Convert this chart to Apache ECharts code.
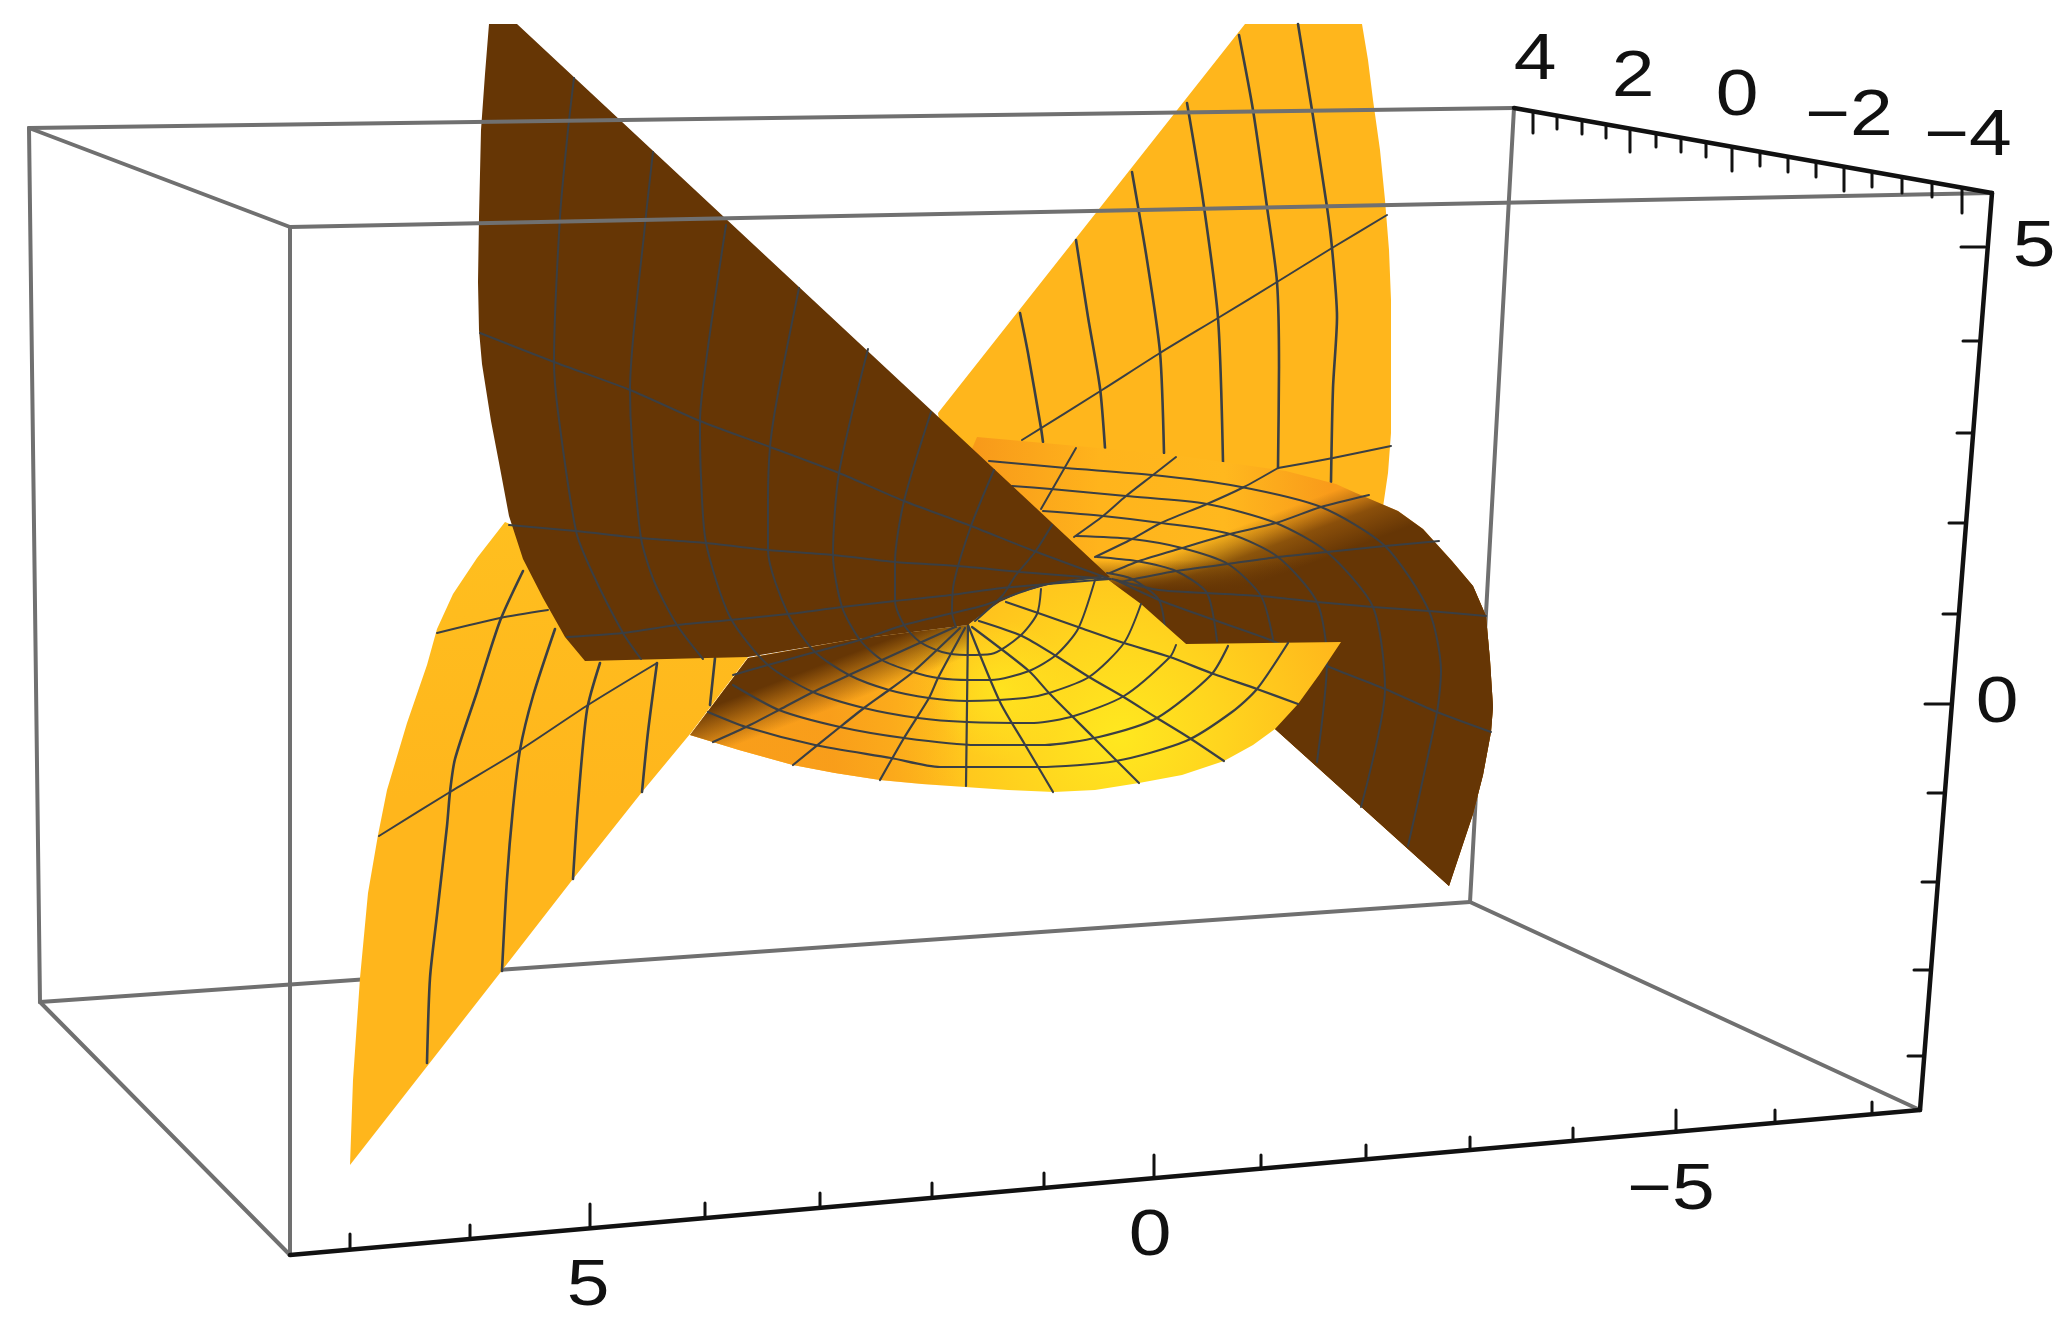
<!DOCTYPE html>
<html>
<head>
<meta charset="utf-8">
<title>Surface plot</title>
<style>
  html, body { margin: 0; padding: 0; background: #fff; }
  #chart { width: 2070px; height: 1331px; }
</style>
<script src="https://cdn.jsdelivr.net/npm/echarts@6/dist/echarts.min.js"></script>
</head>
<body>
<div id="chart"></div>
<script>
// everything is read off the picture, in the plane of the projected image
// bounding box corners
const backTopLeft = [29, 128]
const backTopRight = [1514, 108]
const frontTopLeft = [290, 227]
const frontTopRight = [1992, 193]
const backBottomLeft = [40, 1002]
const backBottomRight = [1470, 902]
const frontBottomLeft = [290, 1255]
const frontBottomRight = [1920, 1110]

// axis ticks: [base x, base y, end x, end y]
const bottomTicks = [
  [350, 1248, 350, 1234], [470, 1238, 470, 1225], [590, 1228, 590, 1204], [705, 1218, 705, 1203],
  [820, 1207, 820, 1193], [932, 1197, 932, 1183], [1044, 1187, 1044, 1173], [1154, 1177, 1154, 1155],
  [1261, 1169, 1261, 1155], [1366, 1159, 1366, 1145], [1470, 1148, 1470, 1137], [1573, 1140, 1573, 1128],
  [1676, 1132, 1676, 1110], [1775, 1122, 1775, 1110], [1872, 1113, 1872, 1102]
]
const topTicks = [
  [1533, 112, 1533, 133], [1557, 116, 1557, 129], [1582, 120, 1582, 134], [1606, 125, 1606, 138],
  [1630, 129, 1630, 152], [1656, 134, 1656, 147], [1681, 138, 1681, 152], [1706, 143, 1706, 157],
  [1732, 147, 1732, 171], [1760, 152, 1760, 166], [1788, 157, 1788, 172], [1816, 162, 1816, 177],
  [1844, 167, 1844, 191], [1872, 172, 1872, 187], [1902, 177, 1902, 193], [1932, 183, 1932, 197],
  [1962, 188, 1962, 213]
]
const rightTicks = [
  [1985, 247, 1961, 247], [1979, 341, 1963, 341], [1973, 433, 1957, 433], [1966, 523, 1949, 523],
  [1958, 614, 1943, 614], [1951, 704, 1925, 704], [1944, 793, 1928, 793], [1937, 882, 1922, 882],
  [1930, 970, 1914, 970], [1924, 1056, 1908, 1056]
]

// tick labels: [text, x, y]
const tickLabels = [
  ['4', 1535, 61], ['2', 1633, 78], ['0', 1737, 97], ['\u22122', 1849, 117], ['\u22124', 1968, 137],
  ['5', 2034, 248], ['0', 1997, 704],
  ['5', 588, 1287], ['0', 1150, 1237], ['\u22125', 1671, 1191]
]

// surface outlines
const backWing = [
  [1245, 24], [1362, 24], [1368, 60], [1373, 100], [1380, 150], [1385, 200], [1389, 250], [1391, 300],
  [1391, 433], [1388, 473], [1383, 507], [1300, 560], [960, 560], [938, 413]
]
const frontWing = [
  [350, 1165], [353, 1080], [360, 978], [368, 893], [378, 835], [387, 790], [407, 723], [427, 665], [437, 629],
  [453, 594], [477, 558], [505, 522], [600, 560], [748, 657], [690, 734], [642, 792], [573, 879], [500, 973]
]
const bowlBack = [
  [977, 437], [1066, 445], [1174, 455], [1286, 471], [1336, 484], [1356, 493], [1398, 511], [1423, 529],
  [1452, 561], [1473, 586], [1486, 616], [1490, 660], [1493, 707], [1491, 732], [1483, 775], [1473, 814],
  [1449, 886], [1275, 729], [1186, 644], [1107, 579], [950, 500]
]
const bowlFront = [
  [968, 625], [985, 612], [1000, 602], [1020, 593], [1041, 587], [1060, 582], [1078, 580], [1090, 579], [1107, 579],
  [1141, 604], [1186, 644], [1341, 642], [1319, 675], [1298, 704], [1275, 729], [1253, 745], [1224, 761],
  [1182, 775], [1139, 783], [1095, 790], [1054, 792], [1008, 790], [965, 787], [922, 784], [880, 780],
  [835, 773], [793, 765], [739, 750], [690, 735], [748, 658], [850, 640]
]
const bowlShadow = [
  [968, 625], [850, 640], [748, 658], [690, 735], [739, 750], [793, 765], [880, 780], [968, 700]
]
const darkWing = [
  [489, 24], [517, 24], [1110, 577], [1090, 579], [1078, 580], [1060, 582], [1041, 587], [1020, 593], [1000, 602],
  [985, 612], [968, 625], [850, 640], [748, 657], [585, 661], [565, 637], [543, 598], [523, 559], [509, 516],
  [500, 468], [491, 421], [482, 364], [479, 330], [478, 282], [479, 217], [481, 130], [485, 74]
]

// mesh on the back wing
const backWingRulings = [
  [[1020, 313], [1028, 353], [1041, 428], [1043, 442]],
  [[1076, 240], [1088, 317], [1100, 388], [1105, 448]],
  [[1132, 172], [1147, 260], [1160, 352], [1164, 453]],
  [[1187, 103], [1203, 200], [1218, 318], [1223, 462]],
  [[1239, 35], [1253, 110], [1267, 207], [1277, 282], [1279, 367], [1278, 468]],
  [[1298, 24], [1312, 110], [1327, 207], [1332, 248], [1337, 317], [1333, 388], [1331, 482]]
]
const backWingCross = [
  [[1022, 440], [1102, 390], [1160, 353], [1218, 318], [1277, 282], [1332, 248], [1387, 215]],
  [[1278, 468], [1333, 458], [1391, 446]]
]

// mesh on the far half of the bowl and its dark right wing
const bowlBackMesh = [
  [[989, 461], [1066, 468], [1153, 475], [1236, 486], [1321, 507], [1385, 546], [1429, 611], [1441, 671], [1437, 712], [1408, 846]],
  [[1012, 486], [1051, 489], [1126, 496], [1207, 504], [1276, 523], [1327, 552], [1373, 607], [1385, 689], [1361, 807]],
  [[1043, 511], [1103, 516], [1161, 523], [1230, 534], [1278, 557], [1317, 602], [1327, 661], [1317, 762]],
  [[1076, 536], [1132, 539], [1182, 548], [1228, 564], [1261, 596], [1273, 639]],
  [[1097, 557], [1136, 561], [1176, 571], [1207, 593], [1217, 641]],
  [[1107, 573], [1132, 579], [1159, 600], [1166, 640]],
  [[1076, 448], [1041, 509]],
  [[1176, 457], [1153, 475], [1126, 496], [1103, 516], [1074, 537]],
  [[1278, 468], [1244, 487], [1207, 504], [1161, 523], [1132, 539], [1095, 557]],
  [[1369, 495], [1321, 507], [1276, 523], [1230, 534], [1182, 548], [1139, 561], [1110, 573]],
  [[1439, 541], [1385, 546], [1327, 552], [1278, 557], [1228, 564], [1176, 571], [1120, 582]],
  [[1486, 616], [1429, 611], [1373, 607], [1317, 602], [1261, 596], [1207, 593], [1159, 590], [1112, 579]],
  [[1491, 732], [1437, 712], [1385, 689], [1327, 666], [1273, 641], [1217, 621], [1159, 600], [1116, 580]]
]

// mesh on the near half of the bowl
const bowlFrontMesh = [
  [[708, 712], [746, 727], [815, 745], [891, 758], [940, 767], [1038, 767], [1116, 761], [1186, 741], [1232, 712], [1257, 689], [1288, 643]],
  [[733, 685], [779, 710], [840, 727], [904, 738], [976, 745], [1045, 745], [1099, 737], [1157, 718], [1211, 675], [1228, 646]],
  [[968, 625], [966, 786]],
  [[968, 625], [1000, 702], [1024, 743], [1053, 792]],
  [[972, 627], [1029, 671], [1049, 693], [1093, 737], [1139, 783]],
  [[979, 621], [1022, 636], [1056, 656], [1089, 677], [1122, 696], [1157, 718], [1188, 737], [1224, 761]],
  [[1006, 602], [1041, 614], [1078, 627], [1124, 643], [1170, 657], [1211, 673], [1257, 689], [1298, 704]],
  [[965, 628], [938, 678], [929, 698], [904, 738], [880, 780]],
  [[960, 628], [913, 672], [889, 690], [864, 708], [840, 727], [793, 765]],
  [[955, 627], [882, 660], [849, 675], [813, 692], [779, 710], [746, 727], [713, 742]]
]

// mesh on the left lower wing
const frontWingRulings = [
  [[427, 1063], [430, 978], [437, 915], [447, 826], [450, 792], [455, 759], [477, 692], [500, 621], [523, 571]],
  [[502, 971], [507, 879], [513, 808], [520, 750], [533, 696], [555, 629]],
  [[573, 879], [578, 804], [587, 710], [600, 663]],
  [[642, 792], [648, 732], [657, 663]],
  [[710, 705], [715, 658]]
]
const frontWingCross = [
  [[379, 836], [450, 792], [520, 750], [588, 705], [657, 663]],
  [[437, 633], [500, 618], [548, 610]]
]

// mesh on the dark wing, the inner arcs run on into the near bowl
const darkWingMesh = [
  [[480, 333], [554, 362], [630, 390], [700, 421], [770, 447], [839, 473], [904, 501], [971, 526], [1034, 551], [1110, 579]],
  [[509, 525], [576, 531], [641, 538], [706, 543], [768, 550], [833, 555], [895, 562], [958, 566], [1020, 572], [1110, 579]],
  [[567, 637], [623, 633], [677, 625], [730, 620], [788, 614], [842, 607], [895, 601], [951, 595], [1002, 588], [1110, 579]],
  [[733, 675], [768, 665], [815, 652], [860, 640], [904, 625], [953, 613], [985, 605], [1043, 585], [1100, 577]],
  [[574, 78], [568, 130], [560, 217], [554, 362], [558, 412], [576, 531], [592, 572], [623, 633], [641, 659]],
  [[653, 152], [645, 225], [630, 390], [632, 442], [641, 538], [654, 581], [677, 625], [703, 659]],
  [[726, 225], [708, 347], [700, 421], [701, 477], [706, 543], [730, 617], [768, 665], [813, 692], [864, 708], [918, 718], [967, 722], [1034, 723], [1074, 716], [1124, 696], [1170, 657], [1176, 645]],
  [[799, 288], [777, 399], [770, 447], [768, 500], [768, 550], [788, 614], [815, 652], [849, 675], [889, 690], [929, 698], [967, 701], [1025, 698], [1049, 693], [1089, 677], [1124, 643], [1141, 604]],
  [[868, 349], [839, 473], [833, 555], [842, 607], [860, 640], [882, 660], [913, 672], [938, 678], [969, 680], [991, 680], [1029, 671], [1056, 655], [1078, 629], [1095, 580]],
  [[931, 412], [904, 501], [895, 562], [895, 601], [904, 625], [920, 642], [942, 652], [966, 655], [991, 654], [1020, 636], [1037, 614], [1041, 589]],
  [[994, 470], [971, 526], [954, 582], [952, 612], [956, 627]],
  [[1052, 525], [1035, 552], [1016, 575], [1002, 596], [975, 621]]
]

const BROWN = '#663605'
const ORANGE = '#FFB61C'
const MESH = '#3a3f44'
const GRAY = '#707070'
const INK = '#111111'

const brown = a => `rgba(102,54,5,${a})`

function linear(x1, y1, x2, y2, stops) {
  return api => {
    const a = api.coord([x1, y1])
    const b = api.coord([x2, y2])
    return { type: 'linear', x: a[0], y: a[1], x2: b[0], y2: b[1], global: true, colorStops: stops }
  }
}

function radial(x, y, r, stops) {
  return api => {
    const c = api.coord([x, y])
    return { type: 'radial', x: c[0], y: c[1], r: r, global: true, colorStops: stops }
  }
}

function polygon(points, fill) {
  return {
    type: 'custom',
    coordinateSystem: 'cartesian2d',
    silent: true,
    data: points,
    renderItem(params, api) {
      if (params.dataIndex !== 0) return null
      return {
        type: 'polygon',
        shape: { points: points.map(p => api.coord(p)) },
        style: { fill: typeof fill === 'function' ? fill(api) : fill }
      }
    }
  }
}

function line(points, color, width, smooth) {
  return {
    type: 'line',
    data: points,
    showSymbol: false,
    silent: true,
    smooth: smooth || 0,
    lineStyle: { color: color, width: width, cap: 'round' }
  }
}

const mesh = (lines, width) => lines.map(points => line(points, MESH, width || 2, 0.25))
const ticks = list => list.map(t => line([[t[0], t[1]], [t[2], t[3]]], INK, 3))

const labels = {
  type: 'custom',
  coordinateSystem: 'cartesian2d',
  silent: true,
  data: tickLabels.map(l => [l[1], l[2], l[0]]),
  renderItem(params, api) {
    const p = api.coord([api.value(0), api.value(1)])
    return {
      type: 'text',
      x: p[0],
      y: p[1],
      scaleX: 1.2,
      style: {
        text: tickLabels[params.dataIndex][0],
        font: '64px "Liberation Sans", Arial, sans-serif',
        fill: INK,
        align: 'center',
        verticalAlign: 'middle'
      }
    }
  }
}

const series = [
  // box edges behind the surface
  line([backBottomLeft, backBottomRight], GRAY, 4),
  line([backTopRight, backBottomRight], GRAY, 4),

  polygon(backWing, ORANGE),
  ...mesh(backWingRulings, 2.6),
  ...mesh(backWingCross, 2),

  polygon(bowlBack, linear(977, 450, 1330, 450, [
    { offset: 0, color: '#F89A1A' },
    { offset: 0.35, color: '#FFB41C' },
    { offset: 0.7, color: '#FFB81E' },
    { offset: 1, color: '#F99B1A' }
  ])),
  polygon(bowlBack, linear(1246.5, 523.6, 1267.6, 579.8, [
    { offset: 0, color: brown(0) },
    { offset: 0.25, color: brown(0.35) },
    { offset: 0.5, color: brown(0.75) },
    { offset: 1, color: brown(1) }
  ])),
  polygon(bowlBack, linear(1200, 560, 1200, 590, [
    { offset: 0, color: brown(0) },
    { offset: 1, color: brown(1) }
  ])),
  ...mesh(bowlBackMesh),

  polygon(bowlFront, radial(1120, 735, 230, [
    { offset: 0, color: '#FFE81F' },
    { offset: 0.45, color: '#FFD41E' },
    { offset: 1, color: '#FFB81C' }
  ])),
  polygon(bowlFront, radial(1000, 690, 70, [
    { offset: 0, color: 'rgba(255,232,31,0.8)' },
    { offset: 1, color: 'rgba(255,232,31,0)' }
  ])),
  polygon(bowlFront, linear(830, 730, 960, 715, [
    { offset: 0, color: 'rgba(248,155,26,0.9)' },
    { offset: 1, color: 'rgba(248,155,26,0)' }
  ])),
  polygon(bowlShadow, linear(818, 666, 834, 708, [
    { offset: 0, color: brown(1) },
    { offset: 1, color: brown(0) }
  ])),
  ...mesh(bowlFrontMesh, 2.2),

  polygon(frontWing, linear(500, 520, 500, 800, [
    { offset: 0, color: '#FFBF1F' },
    { offset: 1, color: ORANGE }
  ])),
  ...mesh(frontWingRulings, 2.6),
  ...mesh(frontWingCross, 2),

  polygon(darkWing, BROWN),
  ...mesh(darkWingMesh),

  // box edges that stay on top
  line([backTopLeft, backTopRight], GRAY, 4),
  line([frontTopLeft, frontTopRight], GRAY, 4),
  line([backTopLeft, frontTopLeft], GRAY, 4),
  line([backTopLeft, backBottomLeft], GRAY, 4),
  line([frontTopLeft, frontBottomLeft], GRAY, 4),
  line([backBottomLeft, frontBottomLeft], GRAY, 4),
  line([backBottomRight, frontBottomRight], GRAY, 4),

  // the three labelled axes
  line([frontBottomLeft, frontBottomRight], INK, 4.5),
  line([frontBottomRight, frontTopRight], INK, 4.5),
  line([backTopRight, frontTopRight], INK, 4.5),
  ...ticks(bottomTicks),
  ...ticks(topTicks),
  ...ticks(rightTicks),
  labels
]

series.forEach((s, i) => { s.z = i + 2 })

const chart = echarts.init(document.getElementById('chart'))
chart.setOption({
  animation: false,
  backgroundColor: '#fff',
  grid: { left: 0, right: 0, top: 0, bottom: 0 },
  xAxis: { type: 'value', min: 0, max: 2070, show: false },
  yAxis: { type: 'value', min: 0, max: 1331, inverse: true, show: false },
  series: series
})
</script>
</body>
</html>
